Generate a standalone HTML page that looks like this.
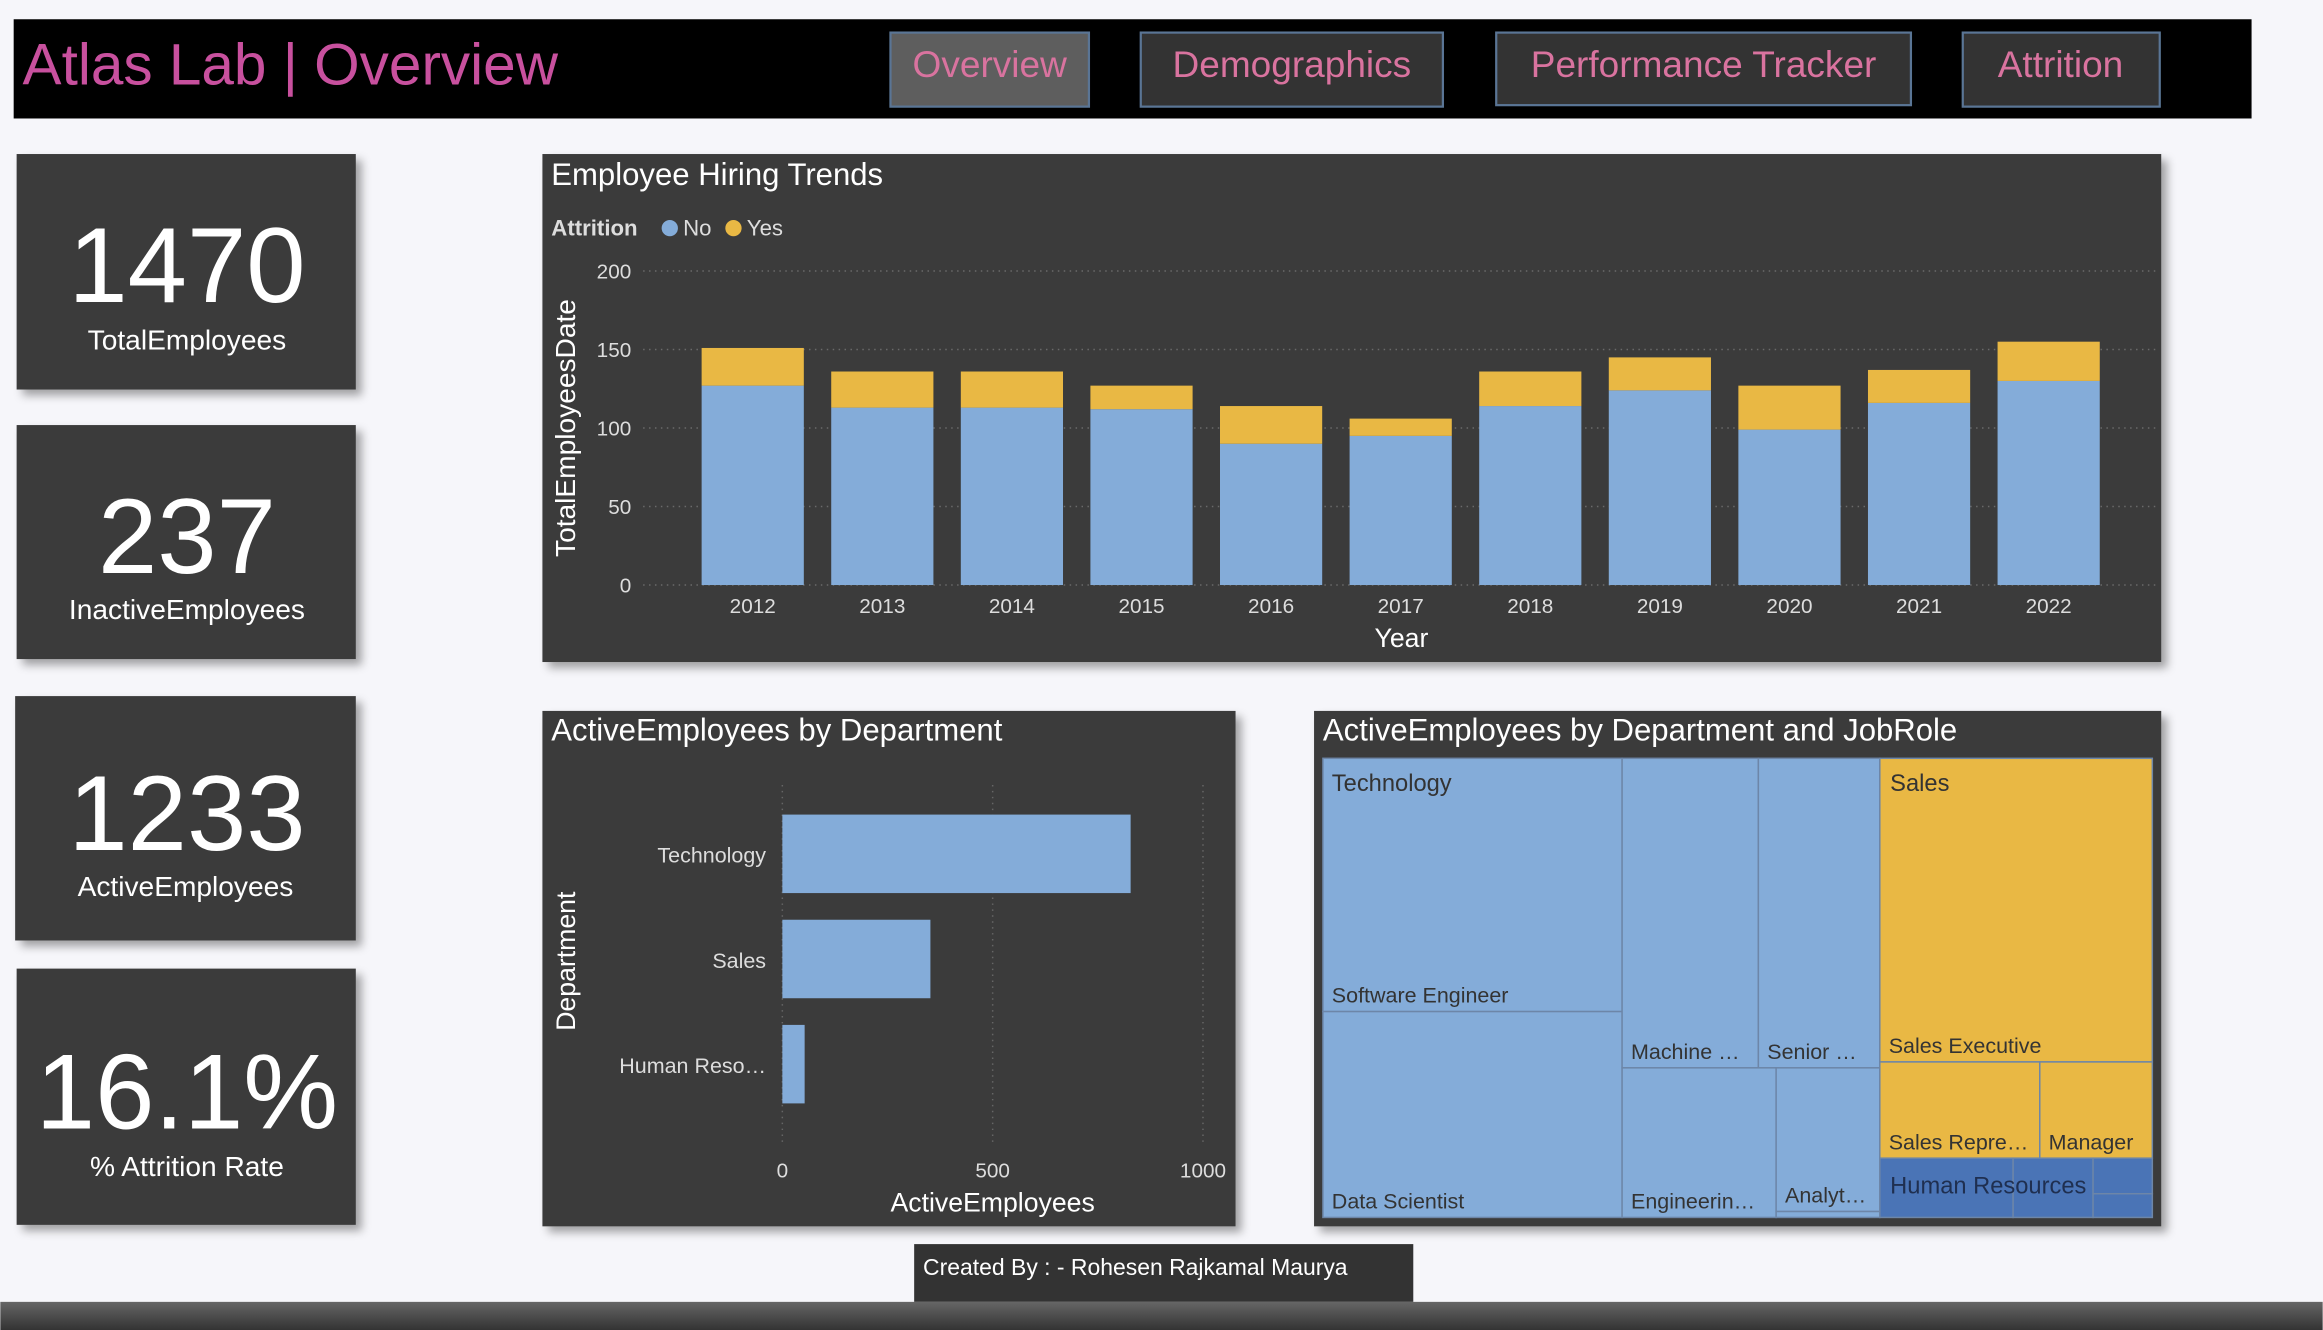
<!DOCTYPE html>
<html><head><meta charset="utf-8"><style>
html,body{margin:0;padding:0;background:#f6f6fa;}
svg{display:block;font-family:"Liberation Sans",sans-serif;}
</style></head><body>
<svg id="root" width="2323" height="1330" viewBox="0 0 1568 898" xmlns="http://www.w3.org/2000/svg">
<defs>
<filter id="sh" x="-10%" y="-10%" width="130%" height="130%"><feDropShadow dx="4" dy="4" stdDeviation="3" flood-color="#000" flood-opacity="0.35"/></filter>
<linearGradient id="bot" x1="0" y1="0" x2="0" y2="1"><stop offset="0" stop-color="#666"/><stop offset="1" stop-color="#333"/></linearGradient>
</defs>
<rect x="0" y="0" width="1568" height="898" fill="#f6f6fa"/>
<g>
<rect x="9" y="13" width="1511" height="67" fill="#000"/>
<text x="15" y="57" font-size="39.5" fill="#c8509e">Atlas Lab | Overview</text>
<g><rect x="601" y="22" width="134" height="50" fill="#5e5e5e" stroke="#5a7595" stroke-width="1.5"/><text x="668" y="52" font-size="25" fill="#d9739f" text-anchor="middle">Overview</text></g>
<g><rect x="770" y="22" width="204" height="50" fill="#333" stroke="#5a7595" stroke-width="1.5"/><text x="872" y="52" font-size="25" fill="#d9739f" text-anchor="middle">Demographics</text></g>
<g><rect x="1010" y="22" width="280" height="49" fill="#333" stroke="#5a7595" stroke-width="1.5"/><text x="1150" y="52" font-size="25" fill="#d9739f" text-anchor="middle">Performance Tracker</text></g>
<g><rect x="1325" y="22" width="133" height="50" fill="#333" stroke="#5a7595" stroke-width="1.5"/><text x="1391" y="52" font-size="25" fill="#d9739f" text-anchor="middle">Attrition</text></g>
</g>

<g><rect x="11" y="104" width="229" height="159" fill="#3a3a3a" filter="url(#sh)"/><text x="126" y="204" font-size="72" fill="#fff" text-anchor="middle">1470</text><text x="126" y="236" font-size="19" fill="#fff" text-anchor="middle">TotalEmployees</text></g>
<g><rect x="11" y="287" width="229" height="158" fill="#3a3a3a" filter="url(#sh)"/><text x="126" y="387" font-size="72" fill="#fff" text-anchor="middle">237</text><text x="126" y="418" font-size="19" fill="#fff" text-anchor="middle">InactiveEmployees</text></g>
<g><rect x="10" y="470" width="230" height="165" fill="#3a3a3a" filter="url(#sh)"/><text x="126" y="574" font-size="72" fill="#fff" text-anchor="middle">1233</text><text x="125" y="605" font-size="19" fill="#fff" text-anchor="middle">ActiveEmployees</text></g>
<g><rect x="11" y="654" width="229" height="173" fill="#3a3a3a" filter="url(#sh)"/><text x="126" y="762" font-size="72" fill="#fff" text-anchor="middle">16.1%</text><text x="126" y="794" font-size="19" fill="#fff" text-anchor="middle">% Attrition Rate</text></g>

<g id="hiring">
<rect x="366" y="104" width="1093" height="343" fill="#3a3a3a" filter="url(#sh)"/>
<text x="372" y="125" font-size="21" fill="#fff">Employee Hiring Trends</text>
<g>
<text x="372" y="159" font-size="15" font-weight="bold" fill="#ddd">Attrition</text>
<circle cx="452" cy="154" r="5.5" fill="#84acd9"/><text x="461" y="159" font-size="15" fill="#ddd">No</text>
<circle cx="495" cy="154" r="5.5" fill="#e9b844"/><text x="504" y="159" font-size="15" fill="#ddd">Yes</text>
</g>
<text transform="translate(388,289) rotate(-90)" font-size="19" fill="#fff" text-anchor="middle">TotalEmployeesDate</text>
<text x="946" y="437" font-size="18" fill="#fff" text-anchor="middle">Year</text>
</g>

<g id="dept">
<rect x="366" y="480" width="468" height="348" fill="#3a3a3a" filter="url(#sh)"/>
<text x="372" y="500" font-size="21" fill="#fff">ActiveEmployees by Department</text>
<text transform="translate(388,649) rotate(-90)" font-size="18" fill="#fff" text-anchor="middle">Department</text>
<text x="670" y="818" font-size="18" fill="#fff" text-anchor="middle">ActiveEmployees</text>
</g>

<g id="tree">
<rect x="887" y="480" width="572" height="348" fill="#3a3a3a" filter="url(#sh)"/>
<text x="893" y="500" font-size="21" fill="#fff">ActiveEmployees by Department and JobRole</text>
</g>

<g><rect x="617" y="840" width="337" height="39" fill="#333"/><text x="623" y="861" font-size="15.5" fill="#fff">Created By : - Rohesen Rajkamal Maurya</text></g>
<rect x="0" y="879" width="1568" height="19" fill="url(#bot)"/>
</svg>
<script>
const NS='http://www.w3.org/2000/svg';
const years=['2012','2013','2014','2015','2016','2017','2018','2019','2020','2021','2022'];
const noVals=[127,113,113,112,90,95,114,124,99,116,130];
const yesVals=[24,23,23,15,24,11,22,21,28,21,25];
const yTicks=[0,50,100,150,200];
const depts=['Technology','Sales','Human Reso…'];
const deptVals=[828,352,53];
const deptTicks=[0,500,1000];
const roles=['Software Engineer','Data Scientist','Machine …','Senior …','Engineerin…','Analyt…','Sales Executive','Sales Repre…','Manager','Human Resources'];

function el(tag,attrs,parent,txt){const e=document.createElementNS(NS,tag);for(const k in attrs)e.setAttribute(k,attrs[k]);if(txt!==undefined)e.textContent=txt;parent.appendChild(e);return e;}
const hg=document.getElementById('hiring');
const yS=v=>395-v*(212/200);
const xS=i=>508+i*87.5;
yTicks.forEach(t=>{
  el('line',{x1:434,x2:1455,y1:yS(t),y2:yS(t),stroke:'#6a6a6a','stroke-dasharray':'1,3'},hg);
  const tx=el('text',{x:426,y:yS(t)+5,'font-size':14,fill:'#ddd','text-anchor':'end'},hg,t);
  
  
});
years.forEach((y,i)=>{
  const bw=69,x=xS(i)-bw/2;
  const b1=el('rect',{x:x,y:yS(noVals[i]),width:bw,height:yS(0)-yS(noVals[i]),fill:'#84acd9'},hg);
  
  
  const b2=el('rect',{x:x,y:yS(noVals[i]+yesVals[i]),width:bw,height:yS(noVals[i])-yS(noVals[i]+yesVals[i]),fill:'#e9b844'},hg);
  
  
  const tl=el('text',{x:xS(i),y:414,'font-size':14,fill:'#ddd','text-anchor':'middle'},hg,y);
  
  
});
const dg=document.getElementById('dept');
const dx=v=>528+v*0.284;
deptTicks.forEach(t=>{
  el('line',{x1:dx(t),x2:dx(t),y1:530,y2:772,stroke:'#666','stroke-dasharray':'1,3'},dg);
  const tl=el('text',{x:dx(t),y:795,'font-size':14,fill:'#ddd','text-anchor':'middle'},dg,t);
  
  
});
depts.forEach((d,i)=>{
  const yc=576.5+i*71;
  const b=el('rect',{x:dx(0),y:yc-26.5,width:dx(deptVals[i])-dx(0),height:53,fill:'#84acd9'},dg);
  
  
  const tl=el('text',{x:517,y:yc+6,'font-size':14.5,fill:'#ddd','text-anchor':'end'},dg,d);
  
  
});
const tg=document.getElementById('tree');
const cells=[
 [893,512,202,171,'#84acd9',roles[0]],[893,683,202,139,'#84acd9',roles[1]],
 [1095,512,92,209,'#84acd9',roles[2]],[1187,512,82,209,'#84acd9',roles[3]],
 [1095,721,104,101,'#84acd9',roles[4]],[1199,721,70,97,'#84acd9',roles[5]],[1199,818,70,4,'#84acd9',''],
 [1269,512,184,205,'#e9b844',roles[6]],[1269,717,108,65,'#e9b844',roles[7]],[1377,717,76,65,'#e9b844',roles[8]],
 [1269,782,90,40,'#4a74b6',''],[1359,782,54,40,'#4a74b6',''],[1413,782,40,24,'#4a74b6',''],[1413,806,40,16,'#4a74b6','']
];
cells.forEach(c=>{
  const r=el('rect',{x:c[0],y:c[1],width:c[2],height:c[3],fill:c[4],stroke:'#6d86a8','stroke-width':1},tg);
  
  
  if(c[5]){
    const t=el('text',{x:c[0]+6,y:c[1]+c[3]-6,'font-size':14.5,fill:'#333'},tg,c[5]);
    
    
  }
});
[[899,534,'Technology','#333'],[1276,534,'Sales','#333'],[1276,806,roles[9],'#1f2f50']].forEach(g=>{
  const t=el('text',{x:g[0],y:g[1],'font-size':16,fill:g[3]},tg,g[2]);
  
  
});
</script>
</body></html>
